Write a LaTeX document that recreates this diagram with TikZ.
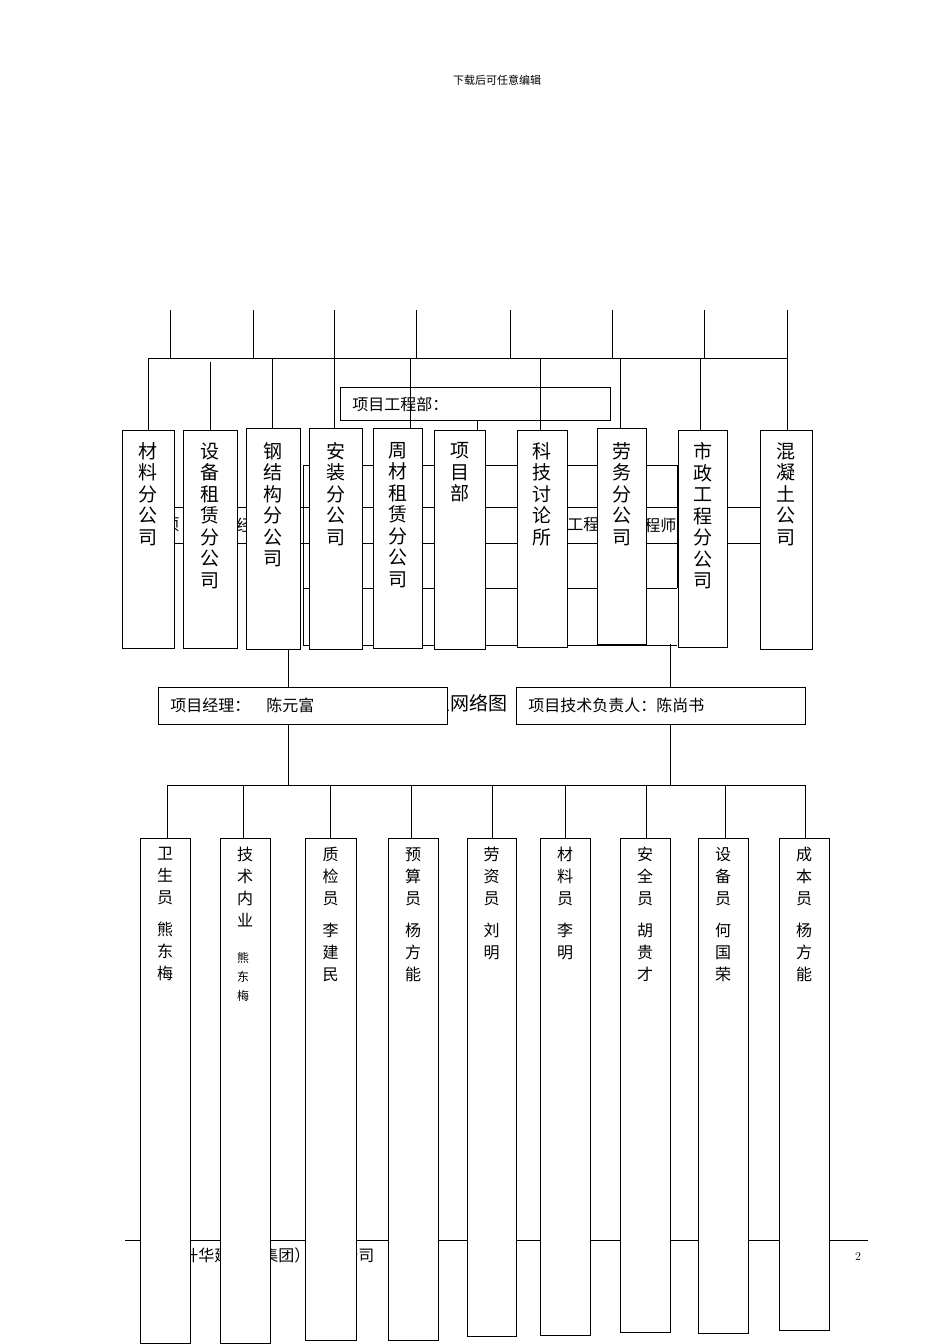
\documentclass[tikz,border=0pt]{standalone}
\usepackage{fontspec}
\newfontfamily\cjk{Noto Sans CJK SC}
\begin{document}
\begin{tikzpicture}[x=1pt,y=-1pt,line width=0.8pt,
 bx/.style={draw,fill=white},
 vt/.style={anchor=north,align=center,inner sep=0pt,font=\cjk\fontsize{19}{21.5}\selectfont},
 vs/.style={anchor=north,align=center,inner sep=0pt,font=\cjk\fontsize{16}{22}\selectfont},
 ht/.style={anchor=west,inner sep=0pt,font=\cjk\fontsize{16}{18}\selectfont}]
\useasboundingbox[fill=white] (0,0) rectangle (950,1344);
\node[inner sep=0pt,font=\cjk\fontsize{11}{12}\selectfont] (hdr) at (497,80) {下载后可任意编辑};
% hidden layer
\draw (303,465) -- (677,465) (175,507) -- (760,507) (175,543) -- (760,543) (303,588) -- (677,588) (303,645) -- (677,645)
 (303,465) -- (303,645) (677,465) -- (677,588) (520,507) -- (520,543);
\node[ht] (h1) at (163,525) {项};
\node[ht] (h2) at (236,525) {经};
\node[ht] (h3) at (567,525) {工程};
\node[ht] (h4) at (644,525) {程师};
% top tree
\foreach \x in {170,253,334,416,510,612,704,787} \draw (\x,310) -- (\x,358);
\draw (148,358) -- (787,358);
\node[bx,minimum width=270pt,minimum height=33pt,anchor=north west] (pe) at (340,387) {};
\node[ht] (pet) at (352,404) {项目工程部：};
\foreach \x/\y in {148/358,210/362,272/358,334/358,410/358,540/358,620/358,700/358,787/358} \draw (\x,\y) -- (\x,430);
\draw (477,420) -- (477,430);
\foreach \a/\b/\t/\bt/\n/\s in {122/174/430/648/m1/{材\\料\\分\\公\\司},183/237/430/648/m2/{设\\备\\租\\赁\\分\\公\\司},246/300/428/649/m3/{钢\\结\\构\\分\\公\\司},309/362/428/649/m4/{安\\装\\分\\公\\司},373/422/428/648/m5/{周\\材\\租\\赁\\分\\公\\司},434/485/430/649/m6/{项\\目\\部},517/567/430/647/m7/{科\\技\\讨\\论\\所},597/646/428/644/m8/{劳\\务\\分\\公\\司},678/727/430/647/m9/{市\\政\\工\\程\\分\\公\\司},760/812/430/649/m10/{混\\凝\\土\\公\\司}}{
 \node[bx,minimum width=\b pt-\a pt,minimum height=\bt pt-\t pt,anchor=north west,inner sep=0pt] (\n) at (\a,\t) {};
 \node[vt] (\n t) at ({(\a+\b)/2},442) {\s};
}
% middle
\draw (m3.south -| 288,0) -- (288,687) (670,644) -- (670,687);
\node[inner sep=0pt,font=\cjk\fontsize{19}{21}\selectfont] (nt) at (460,703) {组织网络图};
\node[bx,minimum width=289pt,minimum height=37pt,anchor=north west] (pm) at (158,687) {};
\node[bx,minimum width=289pt,minimum height=37pt,anchor=north west] (pt) at (516,687) {};
\node[ht] (pmt) at (170,705) {项目经理：\quad 陈元富};
\node[ht] (ptt) at (528,705) {项目技术负责人：陈尚书};
\draw (288,724) -- (288,785) (670,724) -- (670,785) (167,785) -- (805,785);
\foreach \x in {167,243,330,411,492,565,646,725,805} \draw (\x,785) -- (\x,838);
% footer
\draw (125,1240) -- (868,1240);
\node[ht] (ft) at (150,1255) {重庆升华建设（集团）有限公司};
\node[inner sep=0pt,font=\fontsize{12}{13}\selectfont] (pg) at (858,1256) {2};
% bottom boxes
\foreach \a/\b/\bt/\n/\s in {140/190/1343/b1/{卫\\生\\员\\[10pt]熊\\东\\梅},220/270/1343/b2/{技\\术\\内\\业},305/356/1340/b3/{质\\检\\员\\[10pt]李\\建\\民},388/438/1340/b4/{预\\算\\员\\[10pt]杨\\方\\能},467/516/1336/b5/{劳\\资\\员\\[10pt]刘\\明},540/590/1335/b6/{材\\料\\员\\[10pt]李\\明},620/670/1332/b7/{安\\全\\员\\[10pt]胡\\贵\\才},698/748/1333/b8/{设\\备\\员\\[10pt]何\\国\\荣},779/829/1330/b9/{成\\本\\员\\[10pt]杨\\方\\能}}{
 \node[bx,minimum width=\b pt-\a pt,minimum height=\bt pt-838pt,anchor=north west,inner sep=0pt] (\n) at (\a,838) {};
 \node[vs] (\n t) at ({(\a+\b)/2},847) {\s};
}
\node[anchor=north,align=center,inner sep=0pt,font=\cjk\fontsize{12}{19}\selectfont] (b2n) at (243,952) {熊\\东\\梅};
\end{tikzpicture}
\end{document}
